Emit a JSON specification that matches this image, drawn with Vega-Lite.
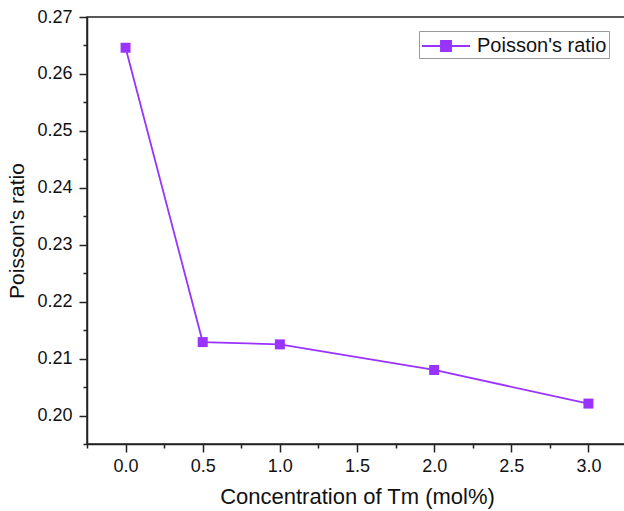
{
  "$schema": "https://vega.github.io/schema/vega-lite/v6.json",
  "width": 540,
  "height": 427,
  "autosize": {"type": "none"},
  "padding": {"left": 87, "top": 17, "right": 0, "bottom": 67},
  "background": "white",
  "config": {
    "view": {"stroke": "#222222", "strokeWidth": 1.5},
    "font": "Liberation Sans",
    "axis": {"grid": false, "domainColor": "#222222", "domainWidth": 1.5, "tickColor": "#222222", "tickWidth": 1.5, "labelColor": "#111111", "titleColor": "#111111", "labelFont": "Liberation Sans", "titleFont": "Liberation Sans", "titleFontWeight": "normal"}
  },
  "data": {"values": [
    {"x": 0.0, "y": 0.2646, "s": "Poisson's ratio"},
    {"x": 0.5, "y": 0.2129, "s": "Poisson's ratio"},
    {"x": 1.0, "y": 0.2125, "s": "Poisson's ratio"},
    {"x": 2.0, "y": 0.2080, "s": "Poisson's ratio"},
    {"x": 3.0, "y": 0.2021, "s": "Poisson's ratio"}
  ]},
  "layer": [
    {
      "mark": {"type": "point", "opacity": 0},
      "encoding": {
        "x": {"field": "x", "type": "quantitative", "scale": {"domain": [-0.25, 3.25], "nice": false, "zero": false},
          "axis": {"orient": "bottom", "values": [-0.25, 0.25, 0.75, 1.25, 1.75, 2.25, 2.75, 3.25], "labels": false, "tickSize": 4, "title": null, "domain": false}},
        "y": {"field": "y", "type": "quantitative", "scale": {"domain": [0.195, 0.27], "nice": false, "zero": false},
          "axis": {"orient": "left", "values": [0.195, 0.205, 0.215, 0.225, 0.235, 0.245, 0.255, 0.265], "labels": false, "tickSize": 4, "title": null, "domain": false}}
      }
    },
    {
      "mark": {"type": "line", "color": "#9933ff", "strokeWidth": 1.8},
      "encoding": {
        "x": {"field": "x", "type": "quantitative", "scale": {"domain": [-0.25, 3.25], "nice": false, "zero": false},
          "axis": {"orient": "bottom", "values": [0, 0.5, 1, 1.5, 2, 2.5, 3], "format": ".1f", "tickSize": 8, "labelFontSize": 18, "labelPadding": 5, "title": "Concentration of Tm (mol%)", "titleFontSize": 22, "titlePadding": 11}},
        "y": {"field": "y", "type": "quantitative", "scale": {"domain": [0.195, 0.27], "nice": false, "zero": false},
          "axis": {"orient": "left", "values": [0.20, 0.21, 0.22, 0.23, 0.24, 0.25, 0.26, 0.27], "format": ".2f", "tickSize": 8, "labelFontSize": 18, "labelPadding": 7, "title": "Poisson's ratio", "titleFontSize": 21, "titlePadding": 9}},
        "color": {"field": "s", "type": "nominal", "scale": {"range": ["#9933ff"]},
          "legend": {"title": null, "orient": "none", "legendX": 332, "legendY": 14, "fillColor": "white", "strokeColor": "#999999", "padding": 2, "labelFontSize": 20, "labelFont": "Liberation Sans", "labelColor": "#111111", "symbolType": "M-1,0L0.58,0M1.42,0L3,0M0.58,-0.42L1.42,-0.42L1.42,0.42L0.58,0.42Z", "symbolSize": 576, "symbolStrokeWidth": 1.8, "symbolFillColor": "#9933ff", "symbolStrokeColor": "#9933ff", "labelOffset": 30}}
      }
    },
    {
      "mark": {"type": "square", "color": "#9933ff", "opacity": 1, "size": 100, "filled": true},
      "encoding": {
        "x": {"field": "x", "type": "quantitative", "axis": null},
        "y": {"field": "y", "type": "quantitative", "axis": null}
      }
    }
  ],
  "resolve": {"axis": {"x": "independent", "y": "independent"}}
}
